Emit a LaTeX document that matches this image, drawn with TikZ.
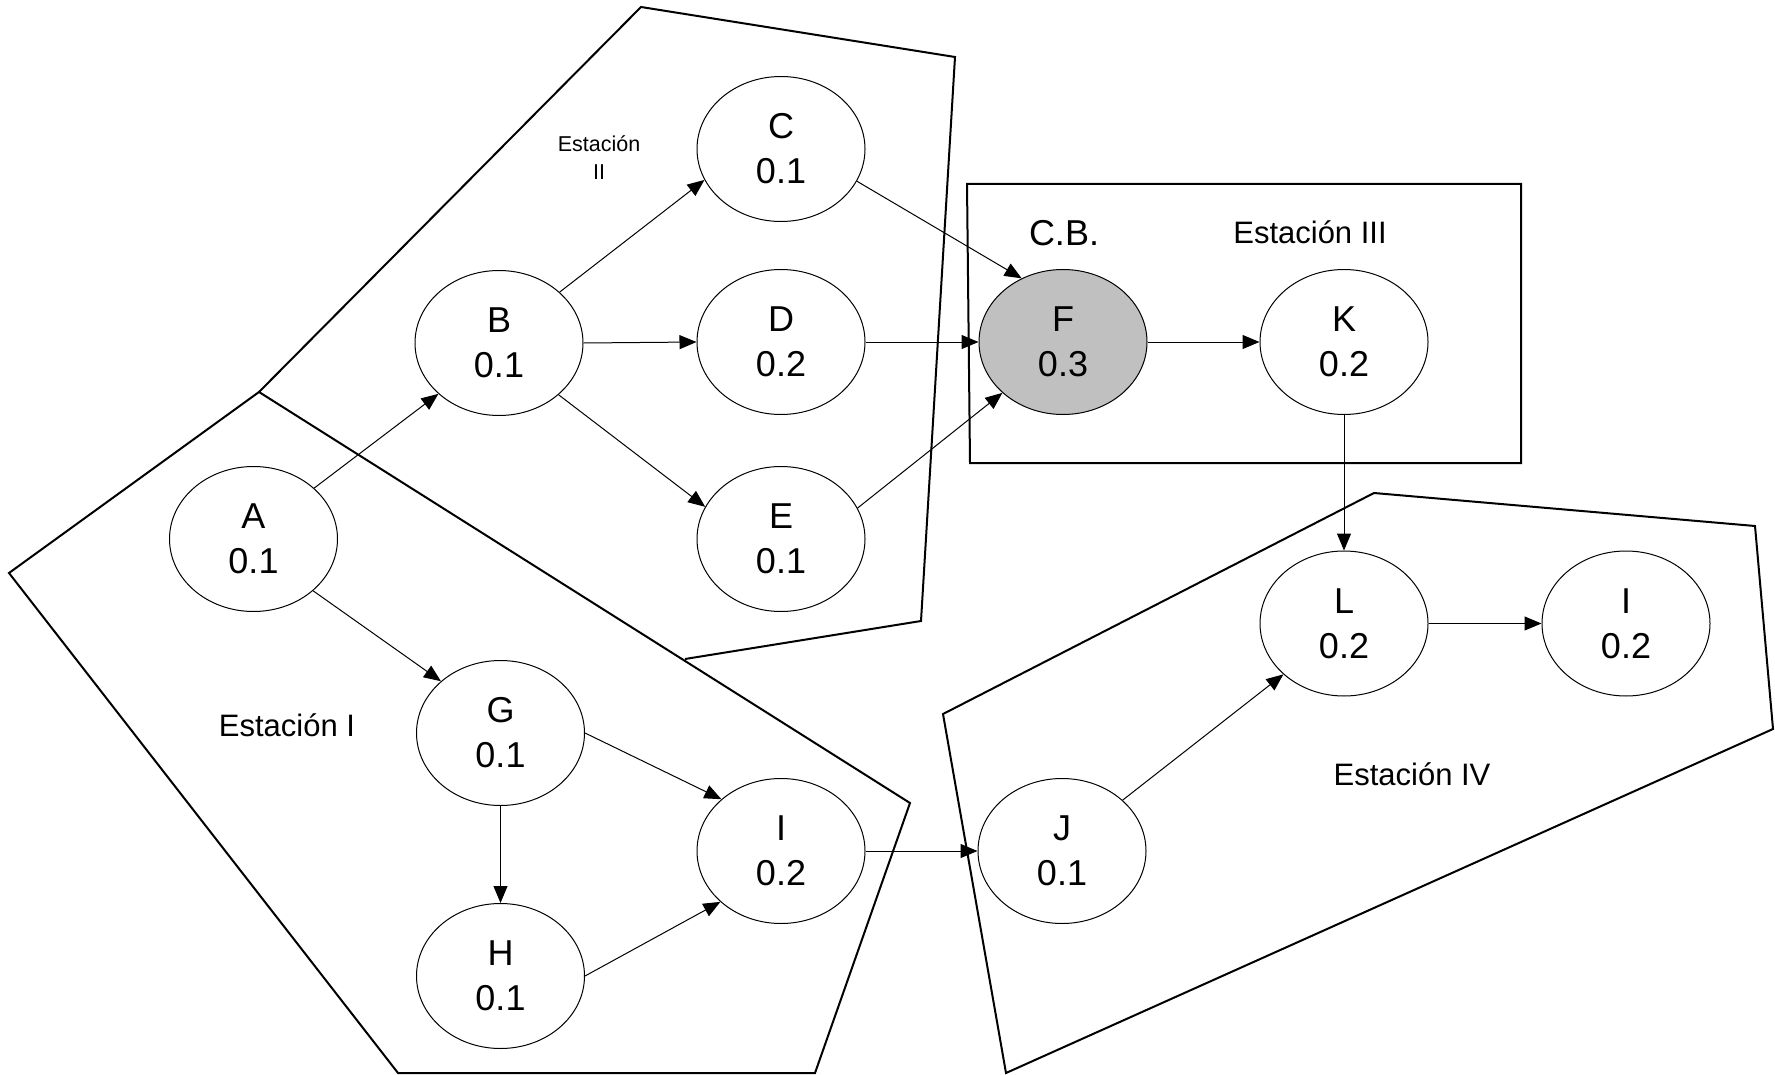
\documentclass[tikz,border=0pt]{standalone}
\usepackage{fontspec}
\setmainfont{Liberation Sans}
\usetikzlibrary{shapes.geometric,arrows.meta}
\begin{document}
\begin{tikzpicture}[x=1pt,y=-1pt,
  nd/.style={ellipse,draw,line width=1pt,minimum width=168pt,minimum height=145pt,inner sep=0pt,align=center,font=\fontsize{36}{45}\selectfont},
  arr/.style={-{Triangle[length=17pt,width=14pt]},line width=1pt},
  zone/.style={draw,line width=2pt,line join=miter},
  lbl/.style={inner sep=0pt,font=\fontsize{31}{37}\selectfont},
  slbl/.style={inner sep=0pt,align=center,font=\fontsize{21.5}{28}\selectfont}]
\useasboundingbox (0,0) rectangle (1775,1075);
% zones
\draw[zone] (259,392) -- (910,803) -- (815,1073) -- (398,1073) -- (9,573) -- cycle;
\draw[zone] (685,659) -- (921,621) -- (955,57) -- (641,7) -- (259,392);
\draw[zone] (967,184) -- (1521,184) -- (1521,463) -- (970,463) -- cycle;
\draw[zone] (943,714) -- (1374,493) -- (1755,526) -- (1773,729) -- (1006,1073) -- cycle;
% labels
\node[slbl] (l2) at (599,158) {Estación\\II};
\node[inner sep=0pt,font=\fontsize{36}{45}\selectfont] (cb) at (1064,233) {C.B.};
\node[lbl] (l3) at (1310,232) {Estación III};
\node[lbl] (l1) at (287,725) {Estación I};
\node[lbl] (l4) at (1412,774) {Estación IV};
% nodes
\node[nd] (A) at (253.5,539) {A\\0.1};
\node[nd] (B) at (499,343) {B\\0.1};
\node[nd] (C) at (781,149) {C\\0.1};
\node[nd] (D) at (781,342) {D\\0.2};
\node[nd] (E) at (781,539) {E\\0.1};
\node[nd,fill={rgb,255:red,192;green,192;blue,192}] (F) at (1063,342) {F\\0.3};
\node[nd] (K) at (1344,342) {K\\0.2};
\node[nd] (G) at (500.5,733) {G\\0.1};
\node[nd] (H) at (500.5,976) {H\\0.1};
\node[nd] (I1) at (781,851) {I\\0.2};
\node[nd] (J) at (1062,851) {J\\0.1};
\node[nd] (L) at (1344,623.5) {L\\0.2};
\node[nd] (I2) at (1626,623.5) {I\\0.2};
% connectors
\draw[arr] (A.40.8) -- (B.220.8);
\draw[arr] (A.319.2) -- (G.139.2);
\draw[arr] (B.40.8) -- (C.202.8);
\draw[arr] (B.east) -- (D.west);
\draw[arr] (B.319.2) -- (E.157.4);
\draw[arr] (C.337.3) -- (F.123);
\draw[arr] (D.east) -- (F.west);
\draw[arr] (E.22.3) -- (F.220.8);
\draw[arr] (F.east) -- (K.west);
\draw[arr] (K.south) -- (L.north);
\draw[arr] (L.east) -- (I2.west);
\draw[arr] (G.south) -- (H.north);
\draw[arr] (G.east) -- (I1.139.2);
\draw[arr] (H.east) -- (I1.220.8);
\draw[arr] (I1.east) -- (J.west);
\draw[arr] (J.40.8) -- (L.220.8);
\end{tikzpicture}
\end{document}
